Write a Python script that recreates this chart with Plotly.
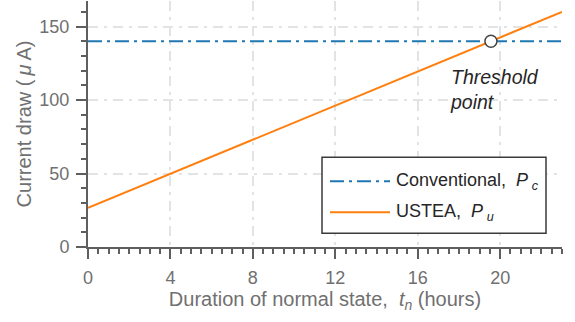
import plotly.graph_objects as go

# Duration of normal state (hours) and current draw (uA)
t_hours = [0, 23]
conventional_ua = [140, 140]
ustea_ua = [26.6, 160.0]

x_ticks = [0, 4, 8, 12, 16, 20]
y_ticks = [0, 50, 100, 150]

# threshold: where the USTEA line reaches the conventional level
slope = (ustea_ua[1] - ustea_ua[0]) / (t_hours[1] - t_hours[0])
t_thr = (conventional_ua[0] - ustea_ua[0]) / slope
i_thr = conventional_ua[0]

FONT = "Liberation Sans, Arial, sans-serif"
AX = "#5f5f5f"
TXT = "#707070"
DARK = "#262626"
BLUE = "#1f77b4"
ORANGE = "#ff7f0e"
GRID = "#e3e3e3"

fig = go.Figure()
fig.add_trace(go.Scatter(x=t_hours, y=conventional_ua, mode="lines",
                         line=dict(color=BLUE, width=2, dash="14px,5px,3px,5px"),
                         showlegend=False, hoverinfo="skip"))
fig.add_trace(go.Scatter(x=t_hours, y=ustea_ua, mode="lines",
                         line=dict(color=ORANGE, width=2),
                         showlegend=False, hoverinfo="skip"))
fig.add_trace(go.Scatter(x=[t_thr], y=[i_thr], mode="markers",
                         marker=dict(size=12, color="white",
                                     line=dict(color="#454545", width=1.5)),
                         showlegend=False, hoverinfo="skip"))

fig.add_annotation(x=17.45, y=107.5, xref="x", yref="y", xanchor="left", yanchor="middle",
                   text="<i>Threshold</i><br><i>point</i>", showarrow=False, align="left",
                   font=dict(family=FONT, size=19.5, color=DARK))

# legend box (paper coordinates of the plot area)
def px_x(p):
    return (p - 88) / 474.0

def px_y(p):
    return (246.7 - p) / 245.7

fig.add_shape(type="rect", xref="paper", yref="paper",
              x0=px_x(322), x1=px_x(546), y0=px_y(233), y1=px_y(157),
              line=dict(color="#3a3a3a", width=1.5), fillcolor="white", layer="above")
fig.add_shape(type="line", xref="paper", yref="paper",
              x0=px_x(330), x1=px_x(390), y0=px_y(181), y1=px_y(181),
              line=dict(color=BLUE, width=2, dash="14px,5px,3px,5px"), layer="above")
fig.add_shape(type="line", xref="paper", yref="paper",
              x0=px_x(330), x1=px_x(390), y0=px_y(212), y1=px_y(212),
              line=dict(color=ORANGE, width=2), layer="above")
fig.add_annotation(x=px_x(394), y=px_y(181), xref="paper", yref="paper",
                   xanchor="left", yanchor="middle", showarrow=False,
                   text="Conventional,&nbsp;&nbsp;<i>P</i>\u2009<sub><i>c</i></sub>",
                   font=dict(family=FONT, size=18, color=DARK))
fig.add_annotation(x=px_x(394), y=px_y(212), xref="paper", yref="paper",
                   xanchor="left", yanchor="middle", showarrow=False,
                   text="USTEA,&nbsp;&nbsp;<i>P</i>\u2009<sub><i>u</i></sub>",
                   font=dict(family=FONT, size=18, color=DARK))

common = dict(
    showline=True, linecolor=AX, linewidth=2,
    ticks="outside", ticklen=10, tickwidth=2, tickcolor=AX,
    ticklabelstandoff=3,
    showgrid=True, gridcolor=GRID, gridwidth=1.5, griddash="10px,6px,3px,6px",
    zeroline=False, tickfont=dict(family=FONT, size=18, color=TXT),
    mirror=False,
)

fig.update_xaxes(range=[0, 23], tickvals=x_ticks, ticktext=[str(v) for v in x_ticks],
                 minor=dict(dtick=0.5, tick0=0, ticks="outside", ticklen=5, tickwidth=1.5,
                            tickcolor=AX, showgrid=False),
                 title=dict(text="Duration of normal state,&nbsp;&nbsp;<i>t</i><sub><i>n</i></sub>&nbsp;(hours)",
                            font=dict(family=FONT, size=20, color=TXT), standoff=2),
                 **common)
fig.update_yaxes(range=[0, 167.4], tickvals=y_ticks, ticktext=[str(v) for v in y_ticks],
                 minor=dict(dtick=10, tick0=0, ticks="outside", ticklen=5, tickwidth=1.5,
                            tickcolor=AX, showgrid=False),
                 title=dict(text="Current draw (\u2009<i>μ</i>\u2009A)",
                            font=dict(family=FONT, size=20, color=TXT), standoff=2),
                 **common)

fig.update_layout(
    width=575, height=322,
    margin=dict(l=88, r=13, t=1, b=75),
    plot_bgcolor="white", paper_bgcolor="white",
    showlegend=False,
)

fig.write_html("out.html")
